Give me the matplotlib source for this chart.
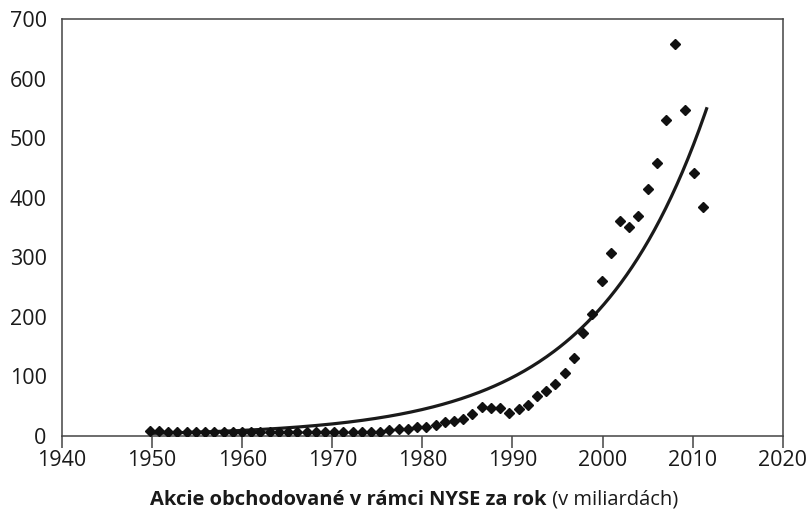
import matplotlib
matplotlib.use("Agg")
import matplotlib.pyplot as plt
import numpy as np

plt.rcParams['font.family'] = ['Open Sans', 'DejaVu Sans']

# x positions (years) of the plotted points
years = [1949.8, 1950.8, 1951.8, 1952.8, 1953.9, 1954.9, 1955.9, 1956.9, 1958.0, 1959.0,
         1960.0, 1961.0, 1962.0, 1963.1, 1964.1, 1965.1, 1966.1, 1967.2, 1968.2, 1969.2,
         1970.2, 1971.2, 1972.3, 1973.3, 1974.3, 1975.3, 1976.3, 1977.4, 1978.4, 1979.4,
         1980.4, 1981.5, 1982.5, 1983.5, 1984.5, 1985.5, 1986.6, 1987.6, 1988.6, 1989.6,
         1990.7, 1991.7, 1992.7, 1993.7, 1994.7, 1995.8, 1996.8, 1997.8, 1998.8, 1999.9,
         2000.9, 2001.9, 2002.9, 2003.9, 2005.0, 2006.0, 2007.0, 2008.0, 2009.1, 2010.1,
         2011.1]
# shares traded (billions)
volume = [8, 8, 6, 6, 6, 6, 6, 6, 6, 6,
          6, 6, 6, 6, 6, 6, 6, 6, 6, 6,
          6, 6, 6, 6, 6, 6, 10, 10.5, 10.5, 14.5,
          15, 18, 22.5, 25, 28, 37, 48.7, 46, 46, 38,
          45, 52, 67, 75.6, 86.8, 104.8, 131, 172, 204, 260.5,
          306.4, 360.7, 350.6, 368.6, 414.4, 457.6, 530.8, 658.5, 546.6, 441.8,
          383.7]

# exponential trend line: value = trend_a * exp(trend_b * (year - trend_ref))
trend_a = 218.0
trend_b = 0.080
trend_ref = 2000.0
trend_range = (1949.8, 2011.55)

xticks = [1940, 1950, 1960, 1970, 1980, 1990, 2000, 2010, 2020]
yticks = [0, 100, 200, 300, 400, 500, 600, 700]
label_bold = "Akcie obchodované v rámci NYSE za rok"
label_regular = " (v miliardách)"

fig = plt.figure(figsize=(8.11, 5.30), dpi=100)
ax = fig.add_axes([62 / 811, 1 - 435.7 / 530, 720.7 / 811, 416.7 / 530])

tx = np.linspace(trend_range[0], trend_range[1], 300)
ty = trend_a * np.exp(trend_b * (tx - trend_ref))
ax.plot(tx, ty, color='#1a1a1a', lw=2.3, zorder=2)
ax.plot(years, volume, linestyle='none', marker='D', ms=4.9, color='#111111', zorder=3)

ax.set_xlim(1940, 2020)
ax.set_ylim(0, 700)
ax.set_xticks(xticks)
ax.set_yticks(yticks)
ax.tick_params(axis='x', direction='out', length=8.5, width=1.1, color='#444444',
               labelsize=15.5, pad=1.5, labelcolor='#1a1a1a')
ax.tick_params(axis='y', length=0, labelsize=15.5, pad=11, labelcolor='#1a1a1a')
for s in ax.spines.values():
    s.set_color('#444444')
    s.set_linewidth(1.1)

fig.canvas.draw()
r = fig.canvas.get_renderer()
ypos = 1 - 500 / 530
t1 = fig.text(0, ypos, label_bold, fontsize=14.5, fontweight='bold', va='center', ha='left', color='#1a1a1a')
t2 = fig.text(0, ypos, label_regular, fontsize=14.5, va='center', ha='left', color='#1a1a1a')
w1 = t1.get_window_extent(r).width
w2 = t2.get_window_extent(r).width
cx = 414
x0 = cx - (w1 + w2) / 2
t1.set_x(x0 / 811)
t2.set_x((x0 + w1) / 811)

fig.savefig('out.png', dpi=100)
